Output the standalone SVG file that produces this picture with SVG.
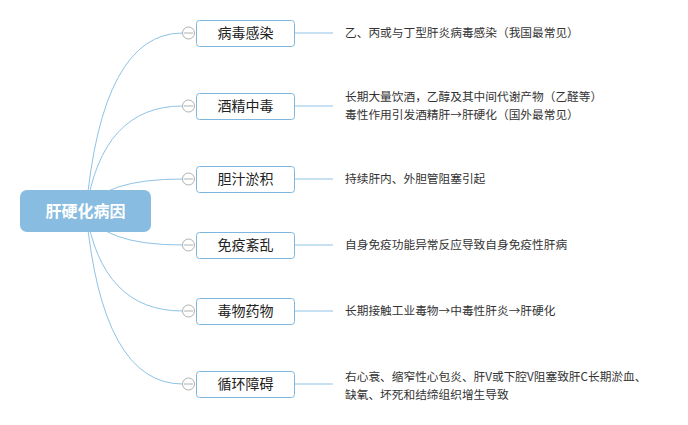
<svg xmlns="http://www.w3.org/2000/svg" width="688" height="425" viewBox="0 0 688 425">
<style>
.conn{fill:none;stroke:#8ec3e6;stroke-width:1}
.box{fill:#fff;stroke:#7db7df;stroke-width:1}
.lbl{font-family:"Noto Sans CJK SC","Liberation Sans",sans-serif;font-size:14px;fill:#222;text-anchor:middle}
.desc{font-family:"Noto Sans CJK SC","Liberation Sans",sans-serif;font-size:11.7px;fill:#333}
.tog{fill:#fff;stroke:#b0b0b0;stroke-width:1}
.togl{stroke:#b0b0b0;stroke-width:1}
</style>
<rect width="688" height="425" fill="#fff"/>
<g id="connectors">
<path class="conn" d="M86 211 Q102 33 182.5 33"/>
<path class="conn" d="M86 211 Q102 106 182.5 106"/>
<path class="conn" d="M86 211 Q102 179 182.5 179"/>
<path class="conn" d="M86 211 Q102 245 182.5 245"/>
<path class="conn" d="M86 211 Q102 311 182.5 311"/>
<path class="conn" d="M86 211 Q102 384 182.5 384"/>
<path class="conn" d="M294 33 H333"/>
<path class="conn" d="M294 106 H333"/>
<path class="conn" d="M294 179 H333"/>
<path class="conn" d="M294 245 H333"/>
<path class="conn" d="M294 311 H333"/>
<path class="conn" d="M294 384 H333"/>
</g>
<g id="root">
<rect x="20" y="190" width="131" height="42" rx="7" fill="#88bce0"/>
<text x="85.5" y="217" font-family="'Noto Sans CJK SC','Liberation Sans',sans-serif" font-size="16" font-weight="bold" fill="#fff" text-anchor="middle">肝硬化病因</text>
</g>
<g id="n1">
<rect class="box" x="196.5" y="20.5" width="98" height="26" rx="3"/>
<text class="lbl" x="245.5" y="38">病毒感染</text>
<circle class="tog" cx="188.5" cy="33" r="6"/><line class="togl" x1="184" y1="33" x2="193" y2="33"/>
</g>
<g id="d1"><text class="desc" x="345" y="37">乙、丙或与丁型肝炎病毒感染（我国最常见）</text></g>
<g id="n2">
<rect class="box" x="196.5" y="93.5" width="98" height="26" rx="3"/>
<text class="lbl" x="245.5" y="111">酒精中毒</text>
<circle class="tog" cx="188.5" cy="106" r="6"/><line class="togl" x1="184" y1="106" x2="193" y2="106"/>
</g>
<g id="d2"><text class="desc" x="345" y="101">长期大量饮酒，乙醇及其中间代谢产物（乙醛等）</text><text class="desc" x="345" y="119">毒性作用引发酒精肝→肝硬化（国外最常见）</text></g>
<g id="n3">
<rect class="box" x="196.5" y="166.5" width="98" height="26" rx="3"/>
<text class="lbl" x="245.5" y="184">胆汁淤积</text>
<circle class="tog" cx="188.5" cy="179" r="6"/><line class="togl" x1="184" y1="179" x2="193" y2="179"/>
</g>
<g id="d3"><text class="desc" x="345" y="183">持续肝内、外胆管阻塞引起</text></g>
<g id="n4">
<rect class="box" x="196.5" y="232.5" width="98" height="26" rx="3"/>
<text class="lbl" x="245.5" y="250">免疫紊乱</text>
<circle class="tog" cx="188.5" cy="245" r="6"/><line class="togl" x1="184" y1="245" x2="193" y2="245"/>
</g>
<g id="d4"><text class="desc" x="345" y="249">自身免疫功能异常反应导致自身免疫性肝病</text></g>
<g id="n5">
<rect class="box" x="196.5" y="298.5" width="98" height="26" rx="3"/>
<text class="lbl" x="245.5" y="316">毒物药物</text>
<circle class="tog" cx="188.5" cy="311" r="6"/><line class="togl" x1="184" y1="311" x2="193" y2="311"/>
</g>
<g id="d5"><text class="desc" x="345" y="315">长期接触工业毒物→中毒性肝炎→肝硬化</text></g>
<g id="n6">
<rect class="box" x="196.5" y="371.5" width="98" height="26" rx="3"/>
<text class="lbl" x="245.5" y="389">循环障碍</text>
<circle class="tog" cx="188.5" cy="384" r="6"/><line class="togl" x1="184" y1="384" x2="193" y2="384"/>
</g>
<g id="d6"><text class="desc" x="345" y="381">右心衰、缩窄性心包炎、肝V或下腔V阻塞致肝C长期淤血、</text><text class="desc" x="345" y="399">缺氧、坏死和结缔组织增生导致</text></g>
</svg>
